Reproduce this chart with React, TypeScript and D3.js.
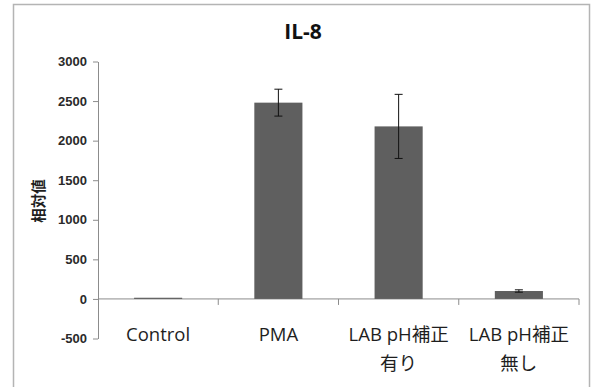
import React, { useEffect, useRef } from 'react';
import * as d3 from 'd3';

// chart values
const categories = ['Control', 'PMA', 'LAB pH補正\n有り', 'LAB pH補正\n無し'];
const values = [15, 2480, 2180, 100];
const errors = [0, 170, 405, 15];
const yTicks = [-500, 0, 500, 1000, 1500, 2000, 2500, 3000];
const title = 'IL-8';
const yLabel = '相対値';

const App = () => {
  const ref = useRef<SVGSVGElement | null>(null);

  useEffect(() => {
    var w = 591,
      h = 387;
    var margin = { top: 61.5, right: 12, bottom: 48.5, left: 98 };

    var svg = d3.select(ref.current);
    svg.selectAll('*').remove();

    // outer frame
    svg.append('rect')
      .attr('x', 13.5).attr('y', 4.5)
      .attr('width', 576).attr('height', 390)
      .attr('fill', '#fff')
      .attr('stroke', '#b4b4b4')
      .attr('stroke-width', 1.5);

    var x = d3.scaleBand()
      .domain(categories)
      .range([margin.left, w - margin.right])
      .paddingInner(0)
      .paddingOuter(0);

    var y = d3.scaleLinear()
      .domain([-500, 3000])
      .range([h - margin.bottom, margin.top]);

    // y axis
    var yAxis = svg.append('g')
      .attr('transform', 'translate(' + margin.left + ',0)')
      .call(d3.axisLeft(y)
        .tickValues(yTicks)
        .tickFormat((d) => String(d))
        .tickSize(5).tickPadding(6).tickSizeOuter(0));
    yAxis.select('.domain').attr('stroke', '#8c8c8c');
    yAxis.selectAll('.tick line').attr('stroke', '#8c8c8c');
    yAxis.selectAll('text')
      .attr('fill', '#2a2a2a')
      .style('font-family', '"Liberation Sans", Arial, sans-serif')
      .style('font-weight', 'bold')
      .style('font-size', '13px');

    // x axis line at zero with ticks at category boundaries
    var x0 = y(0);
    svg.append('line')
      .attr('x1', margin.left).attr('x2', w - margin.right)
      .attr('y1', x0).attr('y2', x0)
      .attr('stroke', '#8c8c8c');
    var bounds = categories.map((c) => (x(c) as number) + x.bandwidth());
    svg.selectAll('.xtick')
      .data(bounds)
      .enter().append('line')
      .attr('class', 'xtick')
      .attr('x1', (d) => d).attr('x2', (d) => d)
      .attr('y1', x0).attr('y2', x0 + 6)
      .attr('stroke', '#8c8c8c');

    // bars
    var barW = x.bandwidth() * 0.4;
    var data = categories.map((c, i) => ({ c: c, v: values[i], e: errors[i] }));
    svg.selectAll('.bar')
      .data(data)
      .enter().append('rect')
      .attr('class', 'bar')
      .attr('x', (d) => (x(d.c) as number) + (x.bandwidth() - barW) / 2)
      .attr('y', (d) => y(d.v))
      .attr('width', barW)
      .attr('height', (d) => y(0) - y(d.v))
      .attr('fill', '#5f5f5f');

    // error bars
    var eb = svg.selectAll('.err')
      .data(data.filter((d) => d.e > 0))
      .enter().append('g')
      .attr('class', 'err')
      .attr('stroke', '#111')
      .attr('stroke-width', 1);
    var cx = (d: any) => (x(d.c) as number) + x.bandwidth() / 2;
    eb.append('line')
      .attr('x1', cx).attr('x2', cx)
      .attr('y1', (d) => y(d.v + d.e)).attr('y2', (d) => y(d.v - d.e));
    eb.append('line')
      .attr('x1', (d) => cx(d) - 4).attr('x2', (d) => cx(d) + 4)
      .attr('y1', (d) => y(d.v + d.e)).attr('y2', (d) => y(d.v + d.e));
    eb.append('line')
      .attr('x1', (d) => cx(d) - 4).attr('x2', (d) => cx(d) + 4)
      .attr('y1', (d) => y(d.v - d.e)).attr('y2', (d) => y(d.v - d.e));

    // category labels
    var labels = svg.selectAll('.cat')
      .data(categories)
      .enter().append('text')
      .attr('class', 'cat')
      .attr('text-anchor', 'middle')
      .attr('fill', '#1e1e1e')
      .style('font-family', '"Open Sans", "Noto Sans CJK JP", sans-serif')
      .style('font-size', '18.5px');
    labels.each(function (d) {
      var lines = d.split('\n');
      var t = d3.select(this);
      lines.forEach((l, i) => {
        t.append('tspan')
          .attr('x', (x(d) as number) + x.bandwidth() / 2)
          .attr('y', 341 + i * 28.5)
          .text(l);
      });
    });

    // title
    svg.append('text')
      .attr('x', 303)
      .attr('y', 39)
      .attr('text-anchor', 'middle')
      .attr('fill', '#111')
      .style('font-family', '"Open Sans", sans-serif')
      .style('font-weight', 'bold')
      .style('font-size', '21px')
      .text(title);

    // y label
    svg.append('text')
      .attr('transform', 'translate(44,201) rotate(-90)')
      .attr('text-anchor', 'middle')
      .attr('fill', '#1e1e1e')
      .style('font-family', '"Noto Sans CJK JP", sans-serif')
      .style('font-weight', 'bold')
      .style('font-size', '14.5px')
      .text(yLabel);
  }, []);

  return (
    <svg
      ref={ref}
      width={591}
      height={387}
      style={{ position: 'absolute', left: 0, top: 0, background: '#fff' }}
    />
  );
};

export default App;
